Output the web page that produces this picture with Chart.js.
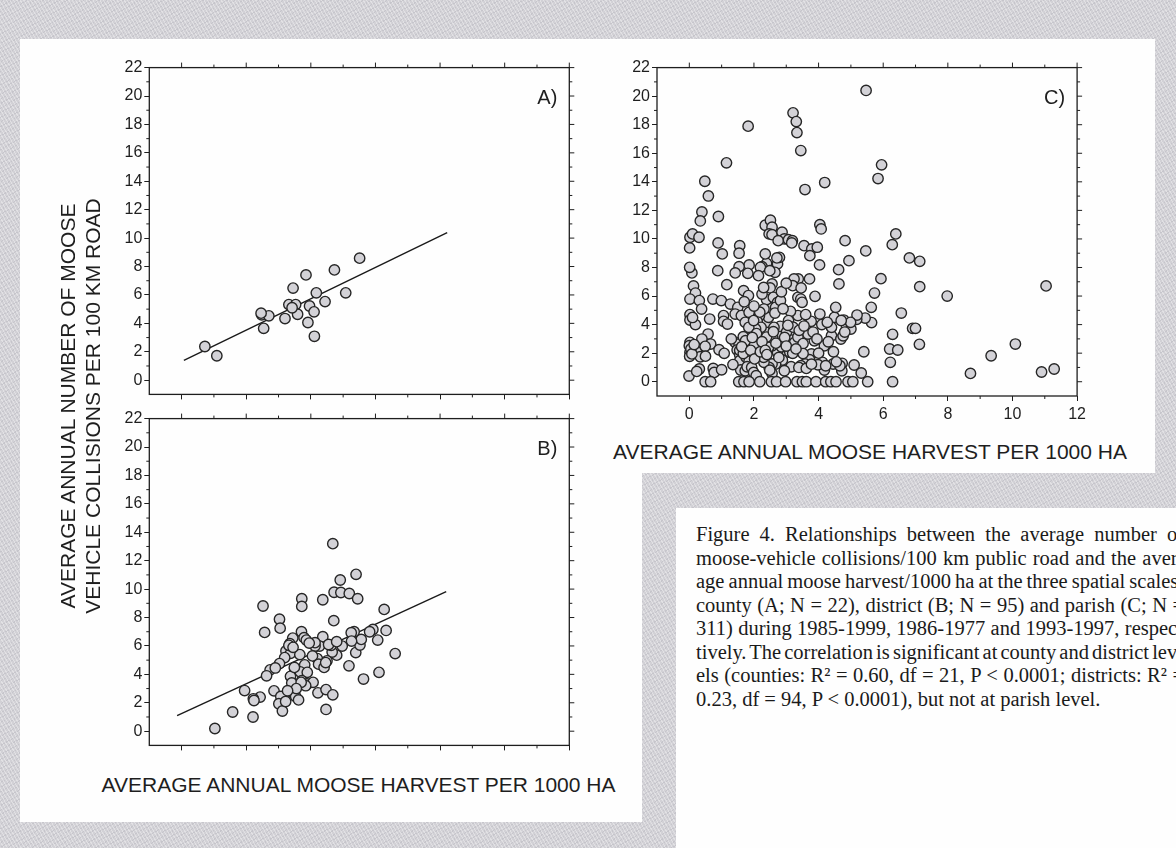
<!DOCTYPE html>
<html>
<head>
<meta charset="utf-8">
<script src="https://cdn.jsdelivr.net/npm/chart.js@4/dist/chart.umd.min.js"></script>
<style>
  html, body { margin: 0; padding: 0; }
  body {
    width: 1176px; height: 848px; overflow: hidden; position: relative;
    background-color: #d2d1d6;
    background-image:
      repeating-linear-gradient(60deg, rgba(255,255,255,.35) 0 1px, transparent 1px 3px),
      repeating-linear-gradient(-30deg, rgba(110,110,125,.12) 0 1px, transparent 1px 4px);
    font-family: "Liberation Sans", Arial, sans-serif;
    color: #1e1e1e;
  }
  .panel { position: absolute; background: #fefefe; }
  canvas { position: absolute; }
  .title { position: absolute; font-size: 21px; line-height: 24px; white-space: nowrap; text-align: center; }
  #ytitle { left: -160px; top: 381px; width: 480px; height: 50px; line-height: 25px; transform: rotate(-90deg); }
  #caption {
    position: absolute; left: 696px; top: 523px; width: 488px;
    font-family: "Liberation Serif", "Times New Roman", serif;
    font-size: 20.5px; line-height: 23.5px; color: #1a1a1a;
  }
  #caption div { white-space: nowrap; text-align: justify; text-align-last: justify; word-spacing: -3px; }
  #caption div.last { text-align-last: left; word-spacing: 0; }
</style>
</head>
<body>
<div class="panel" style="left:20px; top:39px; width:622px; height:783px"></div>
<div class="panel" style="left:642px; top:39px; width:513px; height:434px"></div>
<div class="panel" style="left:676px; top:508px; width:500px; height:340px"></div>

<canvas id="chartA" width="480" height="350" style="left:100px; top:56px"></canvas>
<canvas id="chartB" width="480" height="350" style="left:100px; top:407px"></canvas>
<canvas id="chartC" width="490" height="370" style="left:600px; top:56px"></canvas>

<div class="title" id="ytitle">AVERAGE ANNUAL NUMBER OF MOOSE<br>VEHICLE COLLISIONS PER 100 KM ROAD</div>
<div class="title" style="left:100px; top:773px; width:517px">AVERAGE ANNUAL MOOSE HARVEST PER 1000 HA</div>
<div class="title" style="left:611px; top:440px; width:518px">AVERAGE ANNUAL MOOSE HARVEST PER 1000 HA</div>

<div id="caption">
  <div>Figure 4. Relationships between the average number of</div>
  <div>moose-vehicle collisions/100 km public road and the aver-</div>
  <div>age annual moose harvest/1000 ha at the three spatial scales:</div>
  <div>county (A; N = 22), district (B; N = 95) and parish (C; N =</div>
  <div>311) during 1985-1999, 1986-1977 and 1993-1997, respec-</div>
  <div>tively. The correlation is significant at county and district lev-</div>
  <div>els (counties: R² = 0.60, df = 21, P &lt; 0.0001; districts: R² =</div>
  <div class="last">0.23, df = 94, P &lt; 0.0001), but not at parish level.</div>
</div>

<script>
// axis ticks (harvest per 1000 ha / collisions per 100 km)
const xTicks = [0, 2, 4, 6, 8, 10, 12];
const xMinor = [1, 3, 5, 7, 9, 11];
const yTicks = [0, 2, 4, 6, 8, 10, 12, 14, 16, 18, 20, 22];
const yMinor = [1, 3, 5, 7, 9, 11, 13, 15, 17, 19, 21];

// A) counties
const countyPoints = [
  [0.72, 2.37], [1.09, 1.72], [2.48, 4.6], [2.54, 3.65], [2.70, 4.53], [2.46, 4.72],
  [3.2, 4.34], [3.32, 5.32], [3.53, 5.32], [3.45, 6.48], [3.59, 4.64], [3.85, 7.41],
  [3.91, 4.06], [3.96, 5.22], [4.10, 4.81], [4.11, 3.09], [4.17, 6.15], [4.44, 5.53],
  [4.73, 7.76], [5.08, 6.15], [5.51, 8.59], [3.42, 5.1]
];
const countyLine = [[0.07, 1.39], [8.22, 10.38]];

// B) districts
const districtPoints = [
  [4.68, 13.2], [5.40, 11.04], [4.91, 10.64], [4.72, 9.78], [4.93, 9.76], [5.19, 9.69],
  [5.45, 9.32], [3.72, 9.32], [3.72, 8.78], [4.37, 9.25], [2.52, 8.81], [3.03, 7.88],
  [3.05, 7.25], [2.57, 6.95], [4.71, 7.78], [6.27, 8.57], [6.33, 7.09], [5.92, 7.16],
  [5.82, 7.0], [5.34, 7.0], [5.25, 6.93], [6.07, 6.41], [6.61, 5.46], [5.63, 3.67],
  [6.11, 4.14], [5.18, 4.6], [5.39, 5.53], [5.52, 6.06], [5.56, 6.46], [5.26, 6.34],
  [4.97, 5.99], [4.80, 5.35], [4.66, 5.57], [4.63, 6.04], [4.37, 6.65], [4.27, 5.99],
  [4.13, 5.99], [4.13, 6.23], [4.20, 5.11], [4.24, 4.72], [4.41, 4.49], [4.50, 4.95],
  [3.44, 6.55], [3.35, 6.16], [3.23, 5.65], [3.37, 5.48], [3.66, 5.39], [3.71, 7.0],
  [3.79, 6.58], [3.86, 6.41], [3.19, 5.18], [3.03, 4.76], [2.74, 4.32], [2.63, 3.9],
  [3.81, 4.67], [3.50, 4.42], [3.67, 4.18], [3.89, 4.14], [3.37, 3.86], [3.41, 3.39],
  [3.72, 3.55], [3.89, 3.32], [4.07, 3.44], [1.95, 2.86], [2.43, 2.4], [2.22, 2.28],
  [2.86, 2.84], [3.07, 2.44], [3.41, 2.75], [3.53, 2.44], [4.22, 2.7], [4.47, 2.93],
  [4.68, 2.56], [1.03, 0.19], [1.58, 1.35], [2.21, 1.0], [2.24, 2.16], [3.01, 1.93],
  [3.12, 1.42], [3.22, 2.09], [4.47, 1.53], [3.32, 6.04], [4.46, 4.83], [3.49, 4.49],
  [3.84, 3.2], [3.70, 3.44], [3.55, 3.0], [3.95, 6.2], [4.55, 6.1], [3.28, 2.85],
  [3.62, 2.2], [2.9, 4.45], [4.05, 5.3], [3.45, 5.9], [4.8, 6.3]
];
const districtLine = [[-0.14, 1.1], [8.19, 9.83]];

// C) parishes
const parishPoints = [
  [5.47, 20.4], [3.21, 18.83], [3.31, 18.22], [3.33, 17.45], [3.45, 16.19], [1.82, 17.9],
  [1.15, 15.33], [5.95, 15.19], [5.84, 14.23], [0.48, 14.04], [0.59, 13.01], [3.58, 13.46],
  [4.19, 13.95], [0.39, 11.89], [0.34, 11.26], [0.90, 11.57], [0.02, 10.12], [0.10, 10.35],
  [0.30, 10.12], [0.01, 9.37], [2.35, 10.96], [2.51, 11.31], [2.56, 10.82], [2.47, 10.35],
  [2.56, 10.3], [2.87, 10.47], [2.94, 10.0], [2.75, 9.88], [3.07, 9.95], [3.19, 9.88],
  [3.17, 9.72], [4.04, 11.0], [4.08, 10.7], [3.55, 9.53], [3.79, 9.3], [3.96, 9.42],
  [3.73, 8.83], [4.03, 8.18], [4.82, 9.88], [4.94, 8.48], [4.62, 7.85], [4.63, 6.85],
  [5.46, 9.16], [6.28, 9.6], [6.39, 10.35], [5.93, 7.22], [5.73, 6.21], [5.63, 5.21],
  [5.64, 4.14], [5.44, 4.46], [5.18, 4.37], [5.19, 4.67], [6.81, 8.67], [7.13, 8.43],
  [7.13, 6.66], [6.56, 4.81], [6.91, 3.74], [7.0, 3.74], [7.12, 2.62], [6.29, 3.32],
  [6.2, 2.29], [6.45, 2.22], [6.22, 1.36], [7.98, 6.0], [8.7, 0.58], [9.34, 1.82],
  [10.09, 2.64], [11.04, 6.71], [10.9, 0.68], [11.29, 0.89], [5.40, 2.1], [5.32, 0.61],
  [5.1, 1.17], [4.73, 1.29], [4.72, 0.77], [4.45, 1.24], [4.46, 2.1], [4.4, 3.22],
  [4.49, 4.51], [4.4, 3.81], [4.69, 2.99], [4.76, 3.22], [4.78, 4.32], [4.86, 3.93],
  [5.0, 3.69], [4.99, 4.16], [4.53, 5.21], [4.04, 4.74], [4.1, 4.0], [4.27, 4.16],
  [4.18, 2.52], [4.12, 1.36], [4.18, 0.82], [3.87, 2.87], [3.78, 1.94], [3.72, 1.54],
  [3.58, 1.24], [3.45, 1.12], [3.67, 3.34], [3.67, 4.0], [3.77, 4.23], [3.36, 4.63],
  [3.36, 5.91], [3.45, 5.79], [3.49, 5.56], [3.89, 5.98], [3.72, 7.2], [3.37, 7.2],
  [3.24, 7.2], [3.2, 6.73], [3.46, 6.57], [3.13, 4.93], [3.07, 4.28], [3.19, 3.39],
  [3.15, 2.92], [3.26, 2.76], [3.11, 2.06], [3.2, 1.99], [3.15, 1.05], [2.88, 1.52],
  [2.94, 0.77], [2.67, 1.24], [2.73, 2.06], [2.85, 2.45], [2.81, 2.87], [2.73, 3.34],
  [2.81, 3.88], [2.58, 3.11], [2.56, 2.52], [2.45, 2.41], [2.56, 1.24], [2.47, 1.0],
  [2.56, 0.58], [2.31, 1.36], [2.30, 1.71], [2.33, 3.57], [2.39, 4.16], [2.45, 4.51],
  [2.47, 5.21], [2.39, 5.75], [2.25, 6.14], [2.31, 5.09], [2.17, 4.63], [2.1, 4.23],
  [2.22, 3.81], [2.05, 3.69], [2.1, 2.87], [2.56, 6.85], [2.5, 6.57], [2.6, 5.91],
  [2.73, 5.56], [2.67, 5.21], [2.65, 4.81], [2.62, 3.81], [2.73, 8.25], [2.79, 8.71],
  [2.71, 8.67], [2.65, 7.66], [2.39, 8.29], [2.35, 8.95], [2.25, 8.06], [2.2, 8.01],
  [2.14, 7.43], [1.85, 8.18], [1.81, 7.59], [1.54, 8.06], [1.56, 9.53], [1.54, 9.0],
  [1.42, 7.62], [1.68, 6.38], [1.83, 6.03], [1.16, 6.8], [1.02, 8.95], [0.89, 9.72],
  [0.88, 7.78], [0.08, 7.62], [0.01, 8.01], [0.13, 6.71], [0.19, 6.21], [0.02, 5.79],
  [0.31, 5.68], [0.38, 5.09], [0.73, 5.79], [0.99, 5.68], [1.27, 5.44], [1.5, 5.21],
  [0.02, 4.7], [0.02, 4.32], [0.19, 4.0], [0.63, 4.39], [1.06, 4.63], [1.06, 4.23],
  [1.18, 4.04], [1.42, 4.74], [1.61, 4.63], [1.73, 4.16], [1.84, 3.81], [1.85, 4.86],
  [1.99, 4.28], [0.58, 3.34], [0.39, 2.99], [0.66, 2.64], [0.02, 2.76], [0.0, 2.52],
  [0.02, 2.06], [0.01, 1.78], [0.23, 2.13], [0.49, 2.48], [0.34, 1.75], [0.92, 2.24],
  [1.08, 1.99], [-0.01, 0.4], [0.31, 0.89], [0.23, 0.72], [0.74, 0.93], [0.77, 0.65],
  [1.0, 0.84], [1.42, 2.76], [1.54, 2.64], [1.48, 2.22], [1.56, 1.87], [1.56, 1.47],
  [1.76, 1.71], [1.82, 1.89], [1.85, 1.43], [1.67, 3.15], [1.74, 2.87], [1.59, 0.82],
  [1.73, 0.77], [1.79, 1.05], [1.93, 1.0], [1.99, 0.65], [2.07, 0.42], [2.01, 2.52],
  [3.39, 1.0], [3.98, 1.19], [4.22, 1.12], [4.66, 1.12],
  [0.49, 0], [0.66, 0], [1.53, 0], [1.69, 0], [1.85, 0], [2.18, 0], [2.54, 0],
  [2.70, 0], [2.98, 0], [3.33, 0], [3.50, 0], [3.62, 0], [3.92, 0], [4.22, 0],
  [4.38, 0], [4.54, 0], [4.91, 0], [5.06, 0], [5.52, 0], [6.29, 0],
  [2.49, 7.78], [2.82, 5.69], [2.18, 4.87], [2.90, 5.11], [3.01, 3.48], [3.21, 3.82],
  [3.36, 3.13], [3.83, 3.48], [4.70, 4.29], [4.81, 3.48], [3.52, 2.67], [3.52, 1.97],
  [2.39, 3.13], [2.08, 3.37], [1.56, 2.2], [0.5, 1.79], [1.67, 1.97], [2.49, 0.81],
  [3.62, 0.93], [3.78, 1.23], [4.55, 1.39],
  [0.05, 2.3], [0.08, 1.95], [0.1, 4.5], [0.15, 2.6], [1.62, 2.45], [1.9, 2.2],
  [1.95, 3.1], [2.02, 1.6], [2.2, 2.1], [2.25, 2.8], [2.35, 2.2], [2.4, 1.9],
  [2.6, 3.5], [2.68, 2.7], [2.77, 1.7], [2.95, 3.1], [3.0, 2.5], [3.05, 3.95],
  [3.3, 2.3], [3.4, 3.6], [3.55, 3.9], [3.6, 4.7], [3.95, 3.0], [4.0, 2.0],
  [4.3, 2.8], [2.0, 5.3], [2.3, 6.6], [2.85, 6.3], [3.0, 6.9], [1.7, 5.6],
  [1.3, 3.0], [1.35, 1.2]
];

const ink = '#1e1e1e';
Chart.defaults.font.family = '"Liberation Sans", Arial, sans-serif';

// box, mirrored ticks on top/right, minor ticks, panel letter
const framePlugin = {
  id: 'frame',
  afterDraw(chart, args, opts) {
    const { ctx, chartArea: a, scales: { x, y } } = chart;
    ctx.save();
    ctx.strokeStyle = ink;
    ctx.lineWidth = 1.3;
    ctx.strokeRect(a.left, a.top, a.right - a.left, a.bottom - a.top);
    ctx.lineWidth = 1;
    ctx.beginPath();
    xTicks.forEach(v => {
      const px = x.getPixelForValue(v);
      ctx.moveTo(px, a.top); ctx.lineTo(px, a.top - 5);
    });
    xMinor.forEach(v => {
      const px = x.getPixelForValue(v);
      ctx.moveTo(px, a.top); ctx.lineTo(px, a.top - 3);
      ctx.moveTo(px, a.bottom); ctx.lineTo(px, a.bottom + 3);
    });
    yTicks.forEach(v => {
      const py = y.getPixelForValue(v);
      ctx.moveTo(a.right, py); ctx.lineTo(a.right + 5, py);
    });
    yMinor.forEach(v => {
      const py = y.getPixelForValue(v);
      ctx.moveTo(a.left, py); ctx.lineTo(a.left - 3, py);
      ctx.moveTo(a.right, py); ctx.lineTo(a.right + 3, py);
    });
    ctx.stroke();
    ctx.fillStyle = ink;
    ctx.font = '20px "Liberation Sans", Arial, sans-serif';
    ctx.textAlign = 'right';
    ctx.textBaseline = 'middle';
    ctx.fillText(opts.label, a.right - 12, a.top + 31);
    ctx.restore();
  }
};

function makePanel(id, points, line, label, showX, yWidth, padding) {
  const datasets = [{
    data: points.map(([x, y]) => ({ x, y })),
    pointRadius: 5.2,
    pointHoverRadius: 5.2,
    pointBackgroundColor: '#d3d2d7',
    pointBorderColor: '#262626',
    pointBorderWidth: 1.4,
    order: 1
  }];
  if (line) {
    datasets.push({
      data: line.map(([x, y]) => ({ x, y })),
      showLine: true,
      borderColor: '#1a1a1a',
      borderWidth: 1.4,
      pointRadius: 0,
      order: 2
    });
  }
  return new Chart(document.getElementById(id), {
    type: 'scatter',
    data: { datasets },
    options: {
      responsive: false,
      animation: false,
      events: [],
      layout: { padding },
      plugins: { legend: { display: false }, tooltip: { enabled: false }, frame: { label } },
      scales: {
        x: {
          type: 'linear', min: -1, max: 12,
          afterBuildTicks: s => { s.ticks = xTicks.map(value => ({ value })); },
          afterFit: s => { s.height = showX ? 30 : 10; },
          ticks: { display: showX, color: ink, font: { size: 16 }, padding: 4, callback: v => String(v) },
          grid: { drawOnChartArea: false, tickLength: 5, tickColor: ink, tickWidth: 1 },
          border: { display: false }
        },
        y: {
          type: 'linear', min: -1, max: 22,
          afterBuildTicks: s => { s.ticks = yTicks.map(value => ({ value })); },
          afterFit: s => { s.width = yWidth; },
          ticks: { color: ink, font: { size: 16 }, padding: 2, callback: v => String(v) },
          grid: { drawOnChartArea: false, tickLength: 5, tickColor: ink, tickWidth: 1 },
          border: { display: false }
        }
      }
    },
    plugins: [framePlugin]
  });
}

makePanel('chartA', countyPoints, countyLine, 'A)', false, 49.3, { left: 0, top: 10, right: 10.7, bottom: 0 });
makePanel('chartB', districtPoints, districtLine, 'B)', false, 49.3, { left: 0, top: 10, right: 10.7, bottom: 0 });
makePanel('chartC', parishPoints, null, 'C)', true, 57, { left: 0, top: 10, right: 12, bottom: 0 });
</script>
</body>
</html>
